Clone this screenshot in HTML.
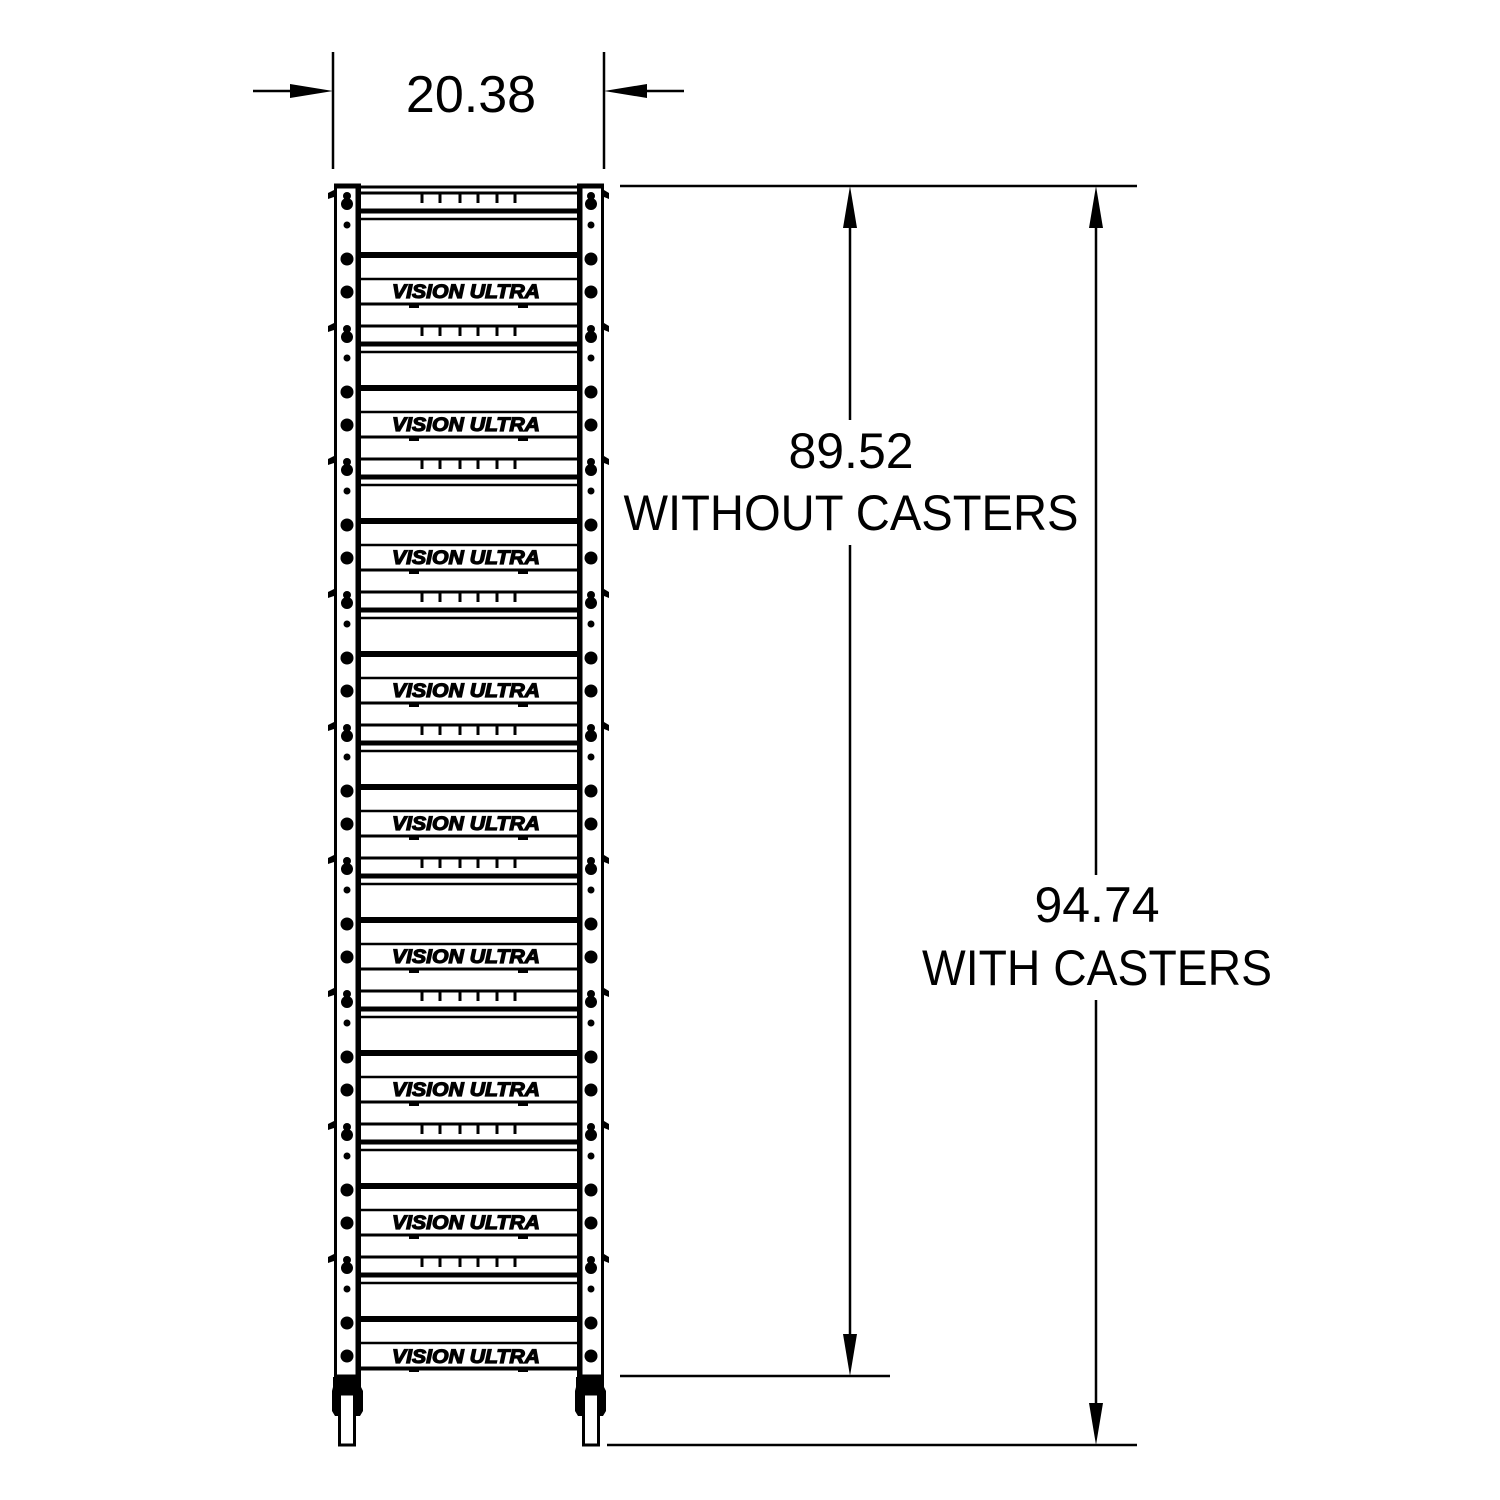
<!DOCTYPE html>
<html><head><meta charset="utf-8"><style>
html,body{margin:0;padding:0;background:#fff}
svg{display:block}
text{font-family:"Liberation Sans",sans-serif;fill:#000}
.vu{font-weight:bold;font-style:italic;font-size:19px;fill:#000;stroke:#000;stroke-width:1.2px}
</style></head><body>
<svg width="1500" height="1500" viewBox="0 0 1500 1500" xmlns="http://www.w3.org/2000/svg">
<defs>
<g id="unit">
  <line x1="360" y1="193" x2="578" y2="193" stroke="#000" stroke-width="3"/>
  <g stroke="#000" stroke-width="3">
    <line x1="422" y1="193" x2="422" y2="203"/><line x1="440" y1="193" x2="440" y2="203"/>
    <line x1="460" y1="193" x2="460" y2="203"/><line x1="478" y1="193" x2="478" y2="203"/>
    <line x1="497" y1="193" x2="497" y2="203"/><line x1="515" y1="193" x2="515" y2="203"/>
  </g>
  <line x1="360" y1="211" x2="578" y2="211" stroke="#000" stroke-width="5"/>
  <line x1="360" y1="219" x2="578" y2="219" stroke="#000" stroke-width="2.5"/>
  <line x1="360" y1="255" x2="578" y2="255" stroke="#000" stroke-width="6"/>
  <line x1="360" y1="279" x2="578" y2="279" stroke="#000" stroke-width="2.5"/>
  <line x1="360" y1="304" x2="578" y2="304" stroke="#000" stroke-width="3"/>
  <rect x="409" y="304" width="10" height="4" fill="#000"/>
  <rect x="518" y="304" width="10" height="4" fill="#000"/>
  <circle cx="347" cy="196" r="4" fill="#000"/><circle cx="347" cy="204" r="6" fill="#000"/>
  <circle cx="347" cy="225" r="3.5" fill="#000"/>
  <circle cx="347" cy="259" r="6.5" fill="#000"/>
  <circle cx="347" cy="292" r="6.5" fill="#000"/>
  <path d="M334 190 l-6 3 l0 6 l6 -2z" fill="#000"/>
  <circle cx="591" cy="196" r="4" fill="#000"/><circle cx="591" cy="204" r="6" fill="#000"/>
  <circle cx="591" cy="225" r="3.5" fill="#000"/>
  <circle cx="591" cy="259" r="6.5" fill="#000"/>
  <circle cx="591" cy="292" r="6.5" fill="#000"/>
  <path d="M604 190 l5 3 l0 6 l-5 -2z" fill="#000"/>
</g>
</defs>

<rect x="335.5" y="185" width="24" height="1191" fill="none" stroke="#000" stroke-width="3"/>
<line x1="358" y1="185" x2="358" y2="1376" stroke="#000" stroke-width="5"/>
<rect x="578.5" y="185" width="24" height="1191" fill="none" stroke="#000" stroke-width="3"/>
<line x1="580" y1="185" x2="580" y2="1376" stroke="#000" stroke-width="5"/>
<line x1="336" y1="187" x2="604" y2="187" stroke="#000" stroke-width="3"/>

<use href="#unit" transform="translate(0,0)"/>
<use href="#unit" transform="translate(0,133)"/>
<use href="#unit" transform="translate(0,266)"/>
<use href="#unit" transform="translate(0,399)"/>
<use href="#unit" transform="translate(0,532)"/>
<use href="#unit" transform="translate(0,665)"/>
<use href="#unit" transform="translate(0,798)"/>
<use href="#unit" transform="translate(0,931)"/>
<use href="#unit" transform="translate(0,1064)"/>
<line x1="360" y1="1369" x2="578" y2="1369" stroke="#000" stroke-width="3"/>

<text class="vu" x="392" y="298" textLength="148" lengthAdjust="spacingAndGlyphs">VISION ULTRA</text>
<text class="vu" x="392" y="431" textLength="148" lengthAdjust="spacingAndGlyphs">VISION ULTRA</text>
<text class="vu" x="392" y="564" textLength="148" lengthAdjust="spacingAndGlyphs">VISION ULTRA</text>
<text class="vu" x="392" y="697" textLength="148" lengthAdjust="spacingAndGlyphs">VISION ULTRA</text>
<text class="vu" x="392" y="830" textLength="148" lengthAdjust="spacingAndGlyphs">VISION ULTRA</text>
<text class="vu" x="392" y="963" textLength="148" lengthAdjust="spacingAndGlyphs">VISION ULTRA</text>
<text class="vu" x="392" y="1096" textLength="148" lengthAdjust="spacingAndGlyphs">VISION ULTRA</text>
<text class="vu" x="392" y="1229" textLength="148" lengthAdjust="spacingAndGlyphs">VISION ULTRA</text>
<text class="vu" x="392" y="1363" textLength="148" lengthAdjust="spacingAndGlyphs">VISION ULTRA</text>

<g fill="#000">
  <path d="M333 1377 h28 v10 l2 4 v20 l-3 5 h-25 l-3 -5 v-20 l1 -4z"/>
  <path d="M576 1377 h28 v10 l2 4 v20 l-3 5 h-25 l-3 -5 v-20 l1 -4z"/>
</g>
<rect x="339.5" y="1394" width="15" height="51" fill="#fff" stroke="#000" stroke-width="3"/>
<rect x="583.5" y="1394" width="15" height="51" fill="#fff" stroke="#000" stroke-width="3"/>

<g stroke="#000" stroke-width="2.5">
  <line x1="333" y1="52" x2="333" y2="169"/>
  <line x1="604" y1="52" x2="604" y2="169"/>
  <line x1="253" y1="91" x2="300" y2="91"/>
  <line x1="640" y1="91" x2="684" y2="91"/>
</g>
<path d="M333 91 L290 84 L290 98Z" fill="#000"/>
<path d="M604 91 L647 84 L647 98Z" fill="#000"/>
<text x="471" y="112" font-size="52" text-anchor="middle">20.38</text>

<g stroke="#000" stroke-width="2.5">
  <line x1="620" y1="186" x2="1137" y2="186"/>
  <line x1="620" y1="1376" x2="890" y2="1376"/>
  <line x1="607" y1="1445" x2="1137" y2="1445"/>
  <line x1="850" y1="220" x2="850" y2="420"/>
  <line x1="850" y1="545" x2="850" y2="1345"/>
  <line x1="1096" y1="220" x2="1096" y2="875"/>
  <line x1="1096" y1="1000" x2="1096" y2="1410"/>
</g>
<path d="M850 186 L843 228 L857 228Z M850 1376 L843 1334 L857 1334Z" fill="#000"/>
<path d="M1096 186 L1089 228 L1103 228Z M1096 1445 L1089 1403 L1103 1403Z" fill="#000"/>
<text x="851" y="468" font-size="50" text-anchor="middle">89.52</text>
<text x="851" y="530" font-size="50" text-anchor="middle" textLength="455" lengthAdjust="spacingAndGlyphs">WITHOUT CASTERS</text>
<text x="1097" y="922" font-size="50" text-anchor="middle">94.74</text>
<text x="1097" y="985" font-size="50" text-anchor="middle" textLength="350" lengthAdjust="spacingAndGlyphs">WITH CASTERS</text>
</svg>
</body></html>
